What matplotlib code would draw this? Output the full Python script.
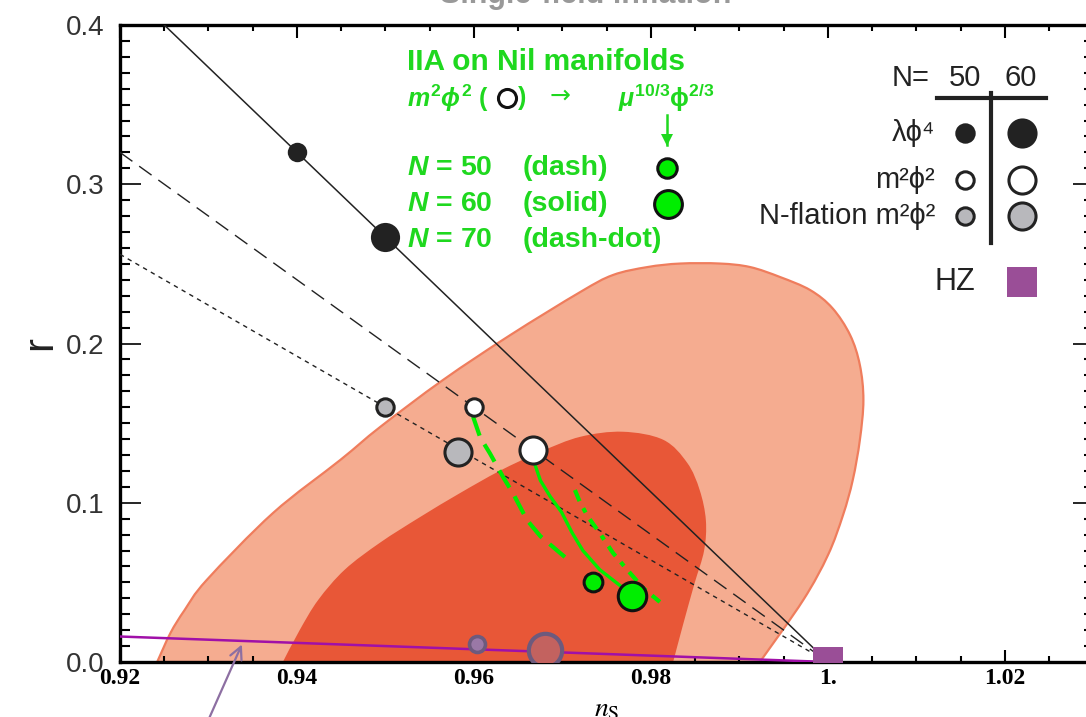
import matplotlib.pyplot as plt
import numpy as np
from matplotlib.path import Path
from matplotlib.patches import PathPatch
from matplotlib.ticker import MultipleLocator, FixedLocator, FixedFormatter

plt.rcParams['font.family'] = ['Liberation Sans', 'DejaVu Sans']
plt.rcParams['mathtext.fontset'] = 'custom'
plt.rcParams['mathtext.rm'] = 'Liberation Sans:bold'
plt.rcParams['mathtext.it'] = 'Liberation Sans:italic:bold'
plt.rcParams['mathtext.bf'] = 'Liberation Sans:bold'

# Planck 95% (outer) and 68% (inner) regions
outer_n = [0.9242, 0.9257, 0.9273, 0.9298, 0.9373, 0.9449, 0.9494, 0.9565, 0.9641,
           0.9720, 0.9757, 0.9796, 0.9833, 0.9878, 0.9912, 0.9946, 0.9980, 1.0005,
           1.0025, 1.0036, 1.0040, 1.0036, 1.0028, 1.0017, 1.0000, 0.9972, 0.9923]
outer_r = [0.0, 0.0182, 0.0326, 0.0515, 0.0936, 0.1269, 0.1476, 0.1771, 0.2053,
           0.2323, 0.2430, 0.2480, 0.2502, 0.2502, 0.2480, 0.2417, 0.2335, 0.2222,
           0.2053, 0.1865, 0.1645, 0.1394, 0.1143, 0.0923, 0.0672, 0.0389, 0.0]
inner_n = [0.9384, 0.9403, 0.9424, 0.9454, 0.9494, 0.9539, 0.9584, 0.9629, 0.9675,
           0.9720, 0.9768, 0.9814, 0.9841, 0.9855, 0.9862, 0.9860, 0.9849, 0.9836, 0.9825]
inner_r = [0.0, 0.020, 0.039, 0.058, 0.075, 0.091, 0.106, 0.120, 0.132,
           0.1414, 0.1446, 0.1395, 0.125, 0.108, 0.089, 0.070, 0.049, 0.023, 0.0]

# straight model lines, from n_s = 0.92 to 1
line_n = [0.92, 1.0]
lam_line_r = [0.4267, 0.0]
m2_line_r = [0.32, 0.0]
nfl_line_r = [0.256, 0.0]
hz_line_r = [0.016, 0.0]

# model points (N = 50, N = 60)
lam_n, lam_r = [0.94, 0.95], [0.32, 0.267]
m2_n, m2_r = [0.96, 0.9667], [0.16, 0.1333]
nfl_n, nfl_r = [0.95, 0.9582], [0.16, 0.132]
nil_n, nil_r = [0.9735, 0.9779], [0.050, 0.0415]
pur_n, pur_r = [0.9603, 0.968], [0.011, 0.0075]
hz_n, hz_r = [1.0], [0.0]

# IIA on Nil manifolds tracks
nil50_n = [0.9599, 0.9607, 0.9618, 0.9633, 0.9644, 0.9660, 0.9675, 0.9694, 0.9711]
nil50_r = [0.154, 0.141, 0.131, 0.116, 0.106, 0.089, 0.079, 0.070, 0.062]
nil60_n = [0.9667, 0.9675, 0.9686, 0.9699, 0.9711, 0.9723, 0.9742, 0.9765]
nil60_r = [0.127, 0.114, 0.104, 0.094, 0.081, 0.070, 0.058, 0.048]
nil70_n = [0.9714, 0.9720, 0.9729, 0.9742, 0.9757, 0.9773, 0.9791, 0.9810]
nil70_r = [0.108, 0.100, 0.091, 0.081, 0.0685, 0.058, 0.0465, 0.0377]

xticks = [0.92, 0.94, 0.96, 0.98, 1.0, 1.02]
xticklabels = ['0.92', '0.94', '0.96', '0.98', '1.', '1.02']
yticks = [0.0, 0.1, 0.2, 0.3, 0.4]

W, H = 1086, 717
fig = plt.figure(figsize=(W / 100, H / 100), dpi=100)
ax = fig.add_axes([120 / W, 55 / H, 973.5 / W, 637 / H])


def fpx(x, y):
    return x / W, 1 - y / H


def region(xs, ys):
    # smooth outline through the read points, closed along r = 0
    p = np.column_stack([xs, ys])
    q = np.vstack([p[0], p, p[-1]])
    verts, codes = [p[0]], [Path.MOVETO]
    for i in range(1, len(q) - 2):
        c1 = q[i] + (q[i + 1] - q[i - 1]) / 6
        c2 = q[i + 1] - (q[i + 2] - q[i]) / 6
        verts += [c1, c2, q[i + 1]]
        codes += [Path.CURVE4] * 3
    verts += [p[0], p[0]]
    codes += [Path.LINETO, Path.CLOSEPOLY]
    return Path(verts, codes)


ax.add_patch(PathPatch(region(outer_n, outer_r), facecolor='#f5ac90', edgecolor='#ef7d5d',
                       lw=1.6, zorder=1))
ax.add_patch(PathPatch(region(inner_n, inner_r), facecolor='#e85737', edgecolor='none', zorder=2))

ax.plot(line_n, lam_line_r, color='#222222', lw=1.1, zorder=3)
ax.plot(line_n, m2_line_r, color='#222222', lw=1.0, dashes=(11, 6), zorder=3)
ax.plot(line_n, nfl_line_r, color='#222222', lw=1.0, dashes=(3.2, 3.2), zorder=3)
ax.plot(line_n, hz_line_r, color='#a010a8', lw=1.8, zorder=4)

green = '#00ee00'
ax.plot(nil50_n, nil50_r, color=green, lw=3, dashes=(4.8, 2.4), zorder=5)
ax.plot(nil60_n, nil60_r, color=green, lw=2.4, zorder=5)
ax.plot(nil70_n, nil70_r, color=green, lw=3, dashes=(2.9, 1.9, 1.2, 1.9), zorder=5)

sizes = [12.5, 19.5]
for i in range(2):
    ax.plot(lam_n[i], lam_r[i], 'o', ms=sizes[i] + 1.5, mfc='#222222', mec='#222222', mew=0, zorder=6)
    ax.plot(m2_n[i], m2_r[i], 'o', ms=sizes[i], mfc='white', mec='#222222', mew=2.2, zorder=6)
    ax.plot(nfl_n[i], nfl_r[i], 'o', ms=sizes[i], mfc='#b8b8bc', mec='#222222', mew=2.2, zorder=6)
    ax.plot(nil_n[i], nil_r[i], 'o', ms=sizes[i] + 1, mfc=green, mec='#111111', mew=2.2, zorder=6)
ax.plot(pur_n[0], pur_r[0], 'o', ms=11.5, mfc='#9a78a6', mec='#6d5a7d', mew=2.6, zorder=6)
ax.plot(pur_n[1], pur_r[1], 'o', ms=24, mfc='#c3625f', mec='#6d5a7d', mew=3, zorder=6)
ax.plot(hz_n, hz_r, 's', ms=21, mfc='#9a4e97', mew=0, zorder=6)

ax.annotate('', xy=(0.9339, 0.0126), xytext=(0.9293, -0.045),
            arrowprops=dict(arrowstyle='->', color='#8d6fa2', lw=1.6, mutation_scale=22),
            annotation_clip=False, zorder=7)

ax.set_xlim(0.92, 1.03)
ax.set_ylim(0, 0.4)
ax.xaxis.set_major_locator(FixedLocator(xticks))
ax.xaxis.set_major_formatter(FixedFormatter(xticklabels))
ax.xaxis.set_minor_locator(MultipleLocator(0.005))
ax.yaxis.set_major_locator(FixedLocator(yticks))
ax.yaxis.set_minor_locator(MultipleLocator(0.01))
ax.set_yticklabels(['%.1f' % v for v in yticks])
ax.tick_params(axis='x', which='major', direction='in', length=9, width=1.5, top=True, pad=4)
ax.tick_params(axis='x', which='minor', direction='in', length=4.5, width=1.5, top=True)
ax.tick_params(axis='y', which='major', direction='in', length=15, width=1.2, right=True,
               labelsize=20, labelcolor='#333333', pad=11)
ax.tick_params(axis='y', which='minor', direction='in', length=7.5, width=1.5, right=True)
for lab in ax.get_xticklabels():
    lab.set_fontfamily('Liberation Serif')
    lab.set_fontweight('bold')
    lab.set_fontsize(17)
for sp in ax.spines.values():
    sp.set_linewidth(2.4)

ax.set_xlabel(r'$n_{\mathrm{S}}$', fontsize=20, math_fontfamily='stix', labelpad=6)
ax.set_ylabel('r', fontsize=30, color='#222222', labelpad=4)

fig.text(*fpx(586, 3), 'Single-field inflation', ha='center', va='baseline',
         fontsize=22, fontweight='bold', color='#999999')

# green annotation block
gtxt = '#1fd81f'
fig.text(*fpx(407, 62), 'IIA on Nil manifolds', color=gtxt, fontsize=21.5,
         fontweight='bold', va='center')
fig.text(*fpx(407, 98), r'$m^2\phi^2$ (', color=gtxt, fontsize=18, fontweight='bold', va='center')
fig.add_artist(plt.Line2D([507 / W], [1 - 98 / H], marker='o', ms=13, mfc='white',
                          mec='#111111', mew=2.2, transform=fig.transFigure))
fig.text(*fpx(518, 98), ')', color=gtxt, fontsize=18, fontweight='bold', va='center')
fig.text(*fpx(550, 96), '→', color=gtxt, fontsize=18, va='center', family='DejaVu Sans')
fig.text(*fpx(618, 98), r'$\mu^{\mathrm{10/3}}\mathrm{\phi}^{\mathrm{2/3}}$', color=gtxt,
         fontsize=18, va='center')
fig.add_artist(plt.Line2D([667 / W, 667 / W], [1 - 115 / H, 1 - 145 / H], color=gtxt,
                          lw=1.8, transform=fig.transFigure))
fig.add_artist(plt.Line2D([667 / W], [1 - 140 / H], marker='v', ms=9, mfc=gtxt, mew=0,
                          transform=fig.transFigure))
rows = [(168, '50', '(dash)'), (204, '60', '(solid)'), (240, '70', '(dash-dot)')]
for y, nval, style in rows:
    fig.text(*fpx(407, y), r'$N$ = ' + nval, color=gtxt, fontsize=20.5, fontweight='bold', va='center')
    fig.text(*fpx(523, y), style, color=gtxt, fontsize=20.5, fontweight='bold', va='center')
fig.add_artist(plt.Line2D([667 / W], [1 - 168 / H], marker='o', ms=14, mfc=green, mec='#111111',
                          mew=2.2, transform=fig.transFigure))
fig.add_artist(plt.Line2D([668 / W], [1 - 204 / H], marker='o', ms=20, mfc=green, mec='#111111',
                          mew=2.2, transform=fig.transFigure))

# key in the upper right
fig.text(*fpx(930, 78), 'N=', fontsize=21, ha='right', va='center', color='#222222')
fig.text(*fpx(965, 78), '50', fontsize=21, ha='center', va='center', color='#222222')
fig.text(*fpx(1021, 78), '60', fontsize=21, ha='center', va='center', color='#222222')
fig.add_artist(plt.Line2D([937 / W, 1046 / W], [1 - 98 / H] * 2, color='#222222', lw=3,
                          transform=fig.transFigure))
fig.add_artist(plt.Line2D([991 / W] * 2, [1 - 93 / H, 1 - 243 / H], color='#222222', lw=3,
                          transform=fig.transFigure))
key_rows = [(133, 'λϕ⁴', '#222222', '#222222'), (180, 'm²ϕ²', 'white', '#222222'),
            (216, 'N-flation m²ϕ²', '#b8b8bc', '#222222')]
for y, label, fc, ec in key_rows:
    fig.text(*fpx(935, y), label, fontsize=21, ha='right', va='center', color='#222222')
    fig.add_artist(plt.Line2D([965 / W], [1 - y / H], marker='o', ms=12.5, mfc=fc, mec=ec,
                              mew=2.2, transform=fig.transFigure))
    fig.add_artist(plt.Line2D([1022 / W], [1 - y / H], marker='o', ms=19.5, mfc=fc, mec=ec,
                              mew=2.2, transform=fig.transFigure))
fig.text(*fpx(975, 282), 'HZ', fontsize=22, ha='right', va='center', color='#222222')
fig.add_artist(plt.Line2D([1022 / W], [1 - 282 / H], marker='s', ms=21, mfc='#9a4e97', mew=0,
                          transform=fig.transFigure))

fig.savefig('out.png', dpi=100)
